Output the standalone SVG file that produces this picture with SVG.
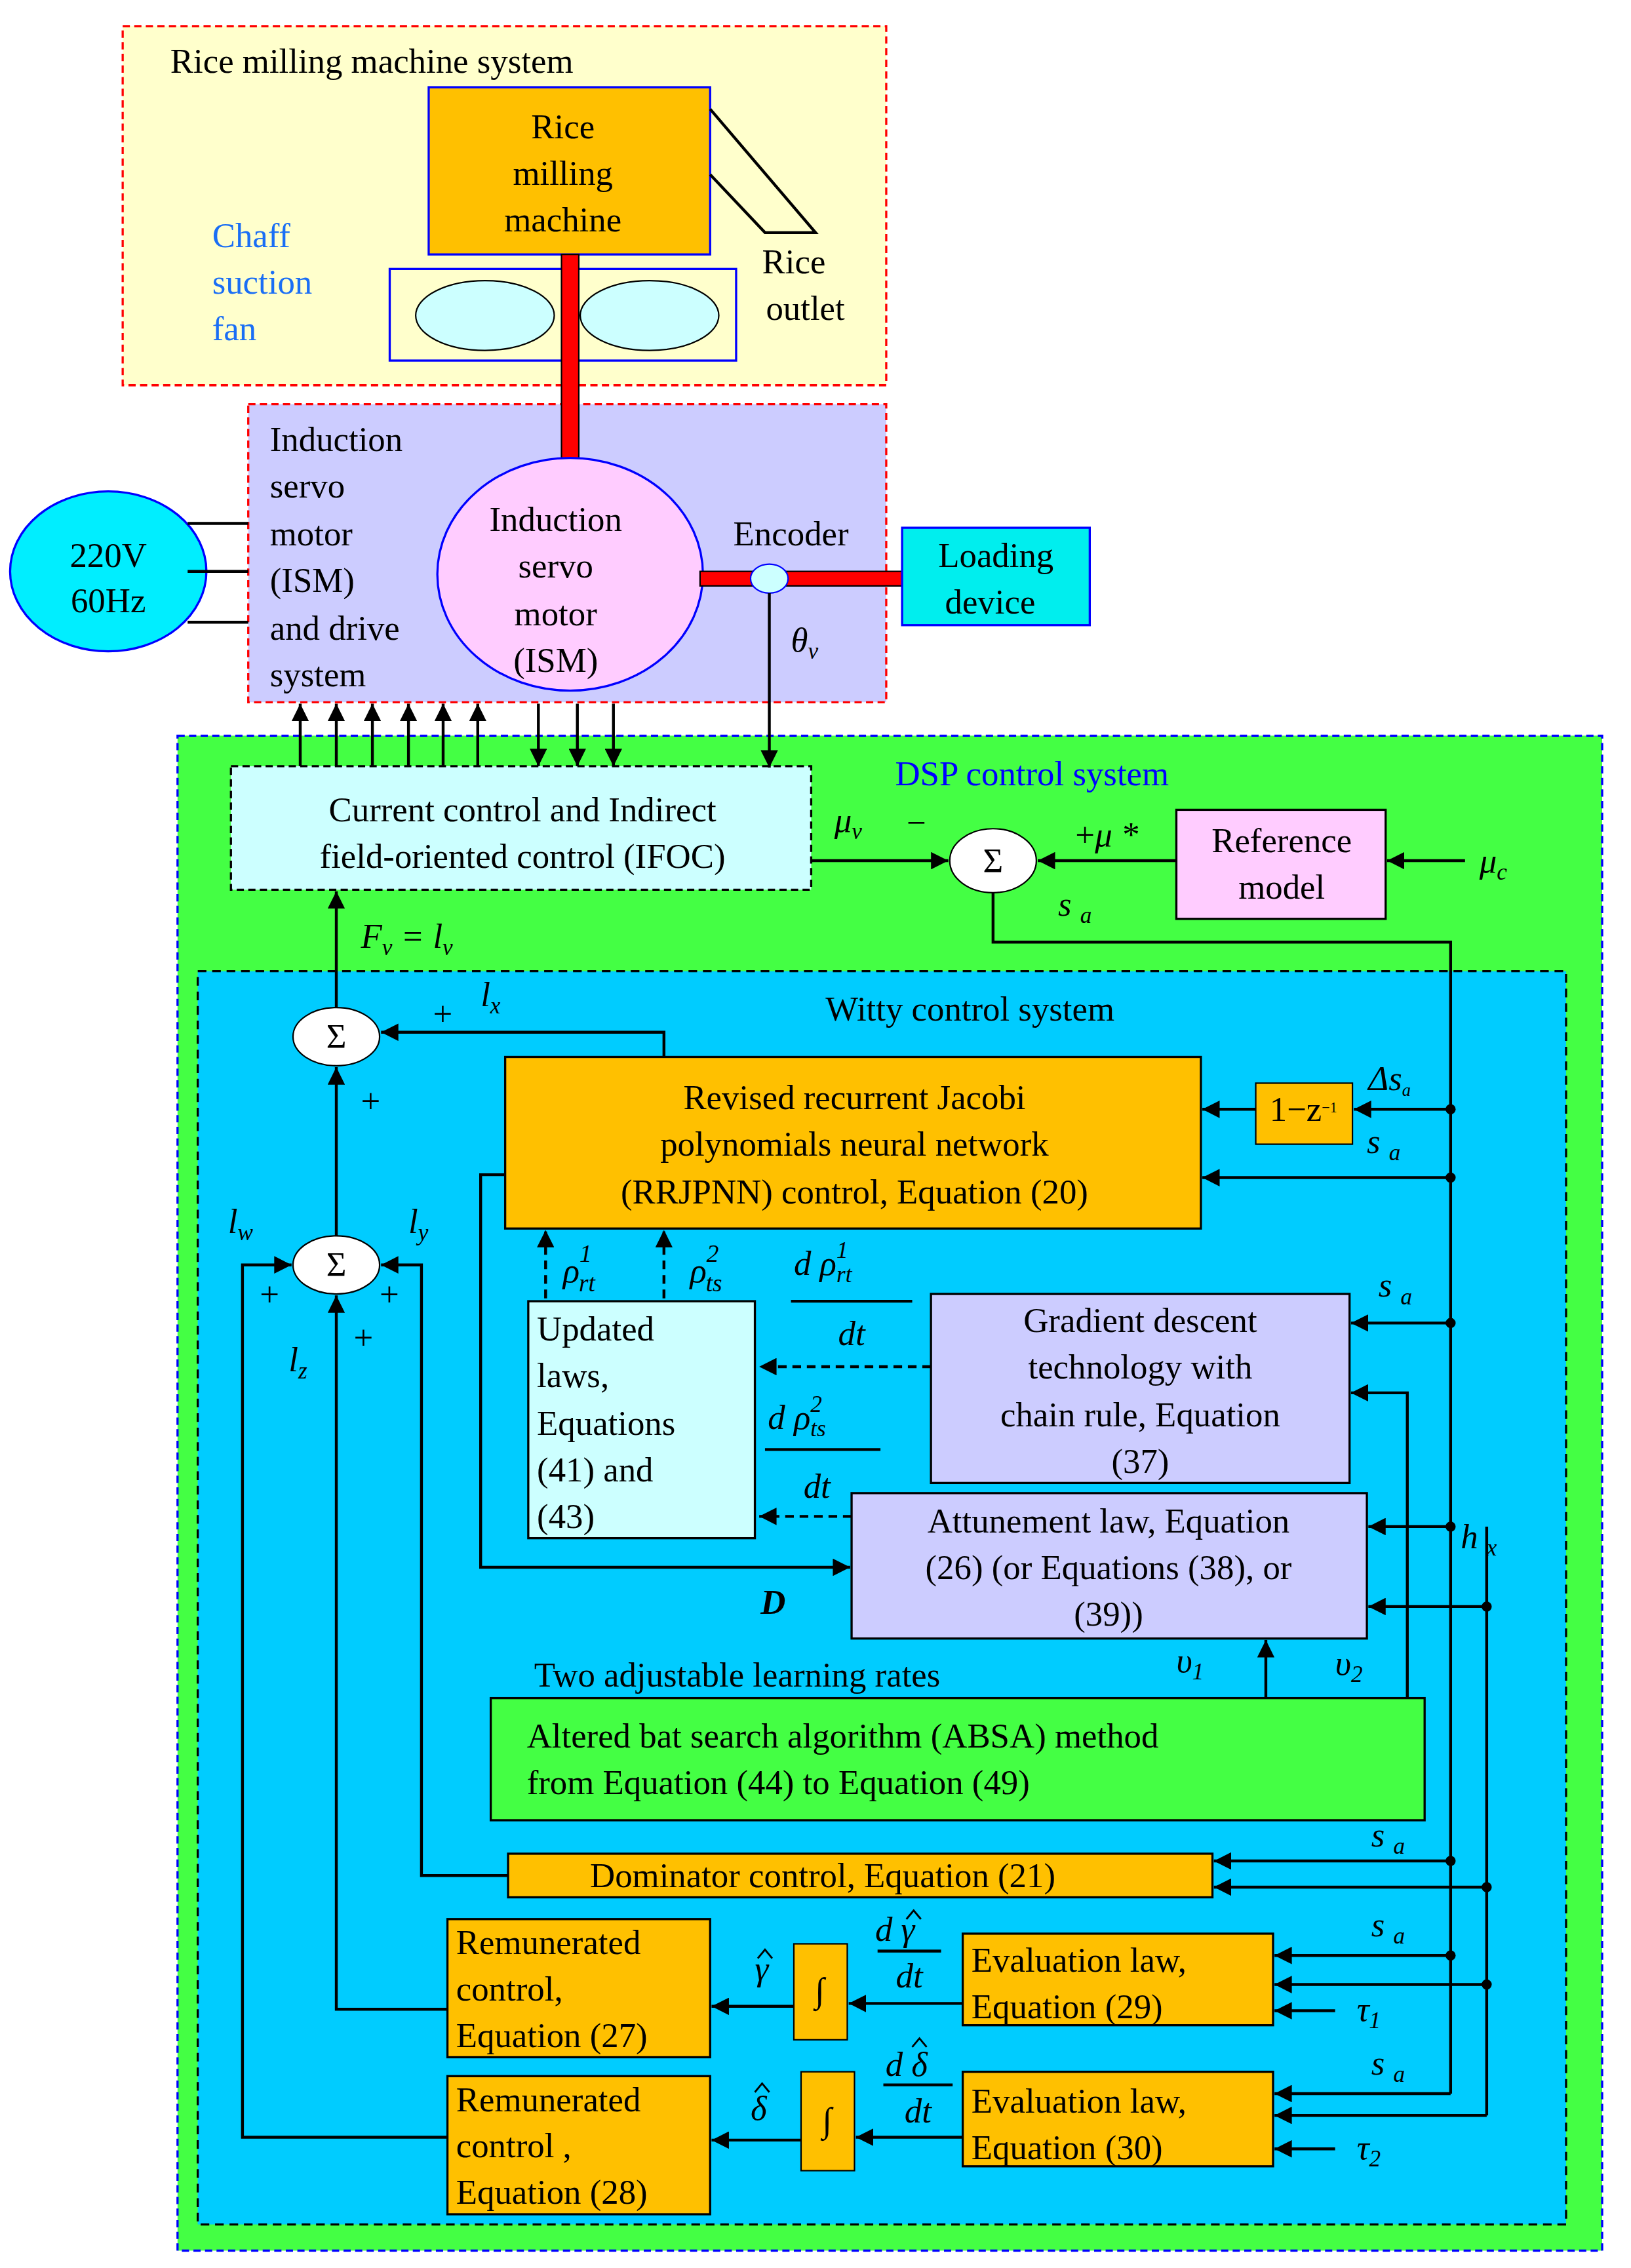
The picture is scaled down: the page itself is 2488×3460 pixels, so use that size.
<svg xmlns="http://www.w3.org/2000/svg" width="2488" height="3460" viewBox="0 0 2488 3460">
<style>
text{font-family:"Liberation Serif","Times New Roman",serif;font-size:24px;fill:#000}
.c{text-anchor:middle}
.i{font-style:italic}
.w{stroke:#000;stroke-width:2;fill:none}
.h{stroke:#000;stroke-width:1.3;fill:none}
.d{stroke:#000;stroke-width:2;fill:none;stroke-dasharray:6,4}
</style>
<defs>
<marker id="m" viewBox="0 0 10 10" refX="10" refY="5" markerWidth="6" markerHeight="6" orient="auto"><path d="M0,0L10,5L0,10z" fill="#000"/></marker>
</defs>
<rect width="2488" height="3460" fill="#fff"/>
<g transform="scale(2.2018,2.218)">
<g id="rice-system">
<rect x="85" y="18" width="529" height="247" fill="#ffffcc" stroke="#f00" stroke-width="1.5" stroke-dasharray="5,3"/>
<text x="118" y="50">Rice milling machine system</text>
<text x="147" y="170" style="fill:#1a6ef5">Chaff</text><text x="147" y="202" style="fill:#1a6ef5">suction</text><text x="147" y="234" style="fill:#1a6ef5">fan</text>
</g>
<g id="mill"><rect x="297" y="60" width="195" height="115" fill="#ffc000" stroke="#00f" stroke-width="1.5"/>
<text x="390" y="95" class="c">Rice</text><text x="390" y="127" class="c">milling</text><text x="390" y="159" class="c">machine</text></g>
<g id="outlet"><path d="M492,75L565,160L530,160L492,120" class="w"/><text x="550" y="188" class="c">Rice</text><text x="558" y="220" class="c">outlet</text></g>
<g id="fan"><rect x="270" y="185" width="240" height="63" fill="none" stroke="#00f" stroke-width="1.5"/>
<ellipse cx="336" cy="217" rx="48" ry="24" fill="#ccffff" stroke="#000"/><ellipse cx="450" cy="217" rx="48" ry="24" fill="#ccffff" stroke="#000"/></g>
<g id="drive"><rect x="172" y="278" width="442" height="205" fill="#ccccff" stroke="#f00" stroke-width="1.5" stroke-dasharray="5,3"/>
<text x="187" y="310">Induction</text><text x="187" y="342">servo</text><text x="187" y="375">motor</text><text x="187" y="407">(ISM)</text><text x="187" y="440">and drive</text><text x="187" y="472">system</text></g>
<rect x="389" y="175" width="12" height="150" fill="#f00" stroke="#000"/>
<g id="motor"><ellipse cx="395" cy="395" rx="92" ry="80" fill="#ffccff" stroke="#00f" stroke-width="1.5"/>
<text x="385" y="365" class="c">Induction</text><text x="385" y="397" class="c">servo</text><text x="385" y="430" class="c">motor</text><text x="385" y="462" class="c">(ISM)</text></g>
<rect x="485" y="393" width="140" height="10" fill="#f00" stroke="#000"/>
<g id="encoder"><ellipse cx="533" cy="398" rx="13" ry="10" fill="#ccffff" stroke="#00f"/><text x="548" y="375" class="c">Encoder</text>
<text x="548" y="448" class="i">θ<tspan font-size="16" dy="5">v</tspan></text></g>
<g id="loading"><rect x="625" y="363" width="130" height="67" fill="#00eeee" stroke="#00f" stroke-width="1.5"/><text x="690" y="390" class="c">Loading</text><text x="686" y="422" class="c">device</text></g>
<g id="power"><ellipse cx="75" cy="393" rx="68" ry="55" fill="#00eeff" stroke="#00f" stroke-width="1.5"/><text x="75" y="390" class="c">220V</text><text x="75" y="421" class="c">60Hz</text></g>
<g id="dsp"><rect x="123" y="506" width="987" height="1042" fill="#44ff44" stroke="#00f" stroke-width="1.5" stroke-dasharray="5,3"/>
<text x="715" y="540" class="c" style="fill:#00f">DSP control system</text></g>
<g id="witty"><rect x="137" y="668" width="948" height="862" fill="#00ccff" stroke="#000" stroke-width="1.5" stroke-dasharray="6,4"/>
<text x="672" y="702" class="c">Witty control  system</text></g>
<g id="ifoc"><rect x="160" y="527" width="402" height="85" fill="#ccffff" stroke="#000" stroke-width="1.5" stroke-dasharray="5,3"/>
<text x="362" y="565" class="c">Current control and Indirect</text><text x="362" y="597" class="c">field-oriented control (IFOC)</text></g>
<g id="sum-main"><ellipse cx="688" cy="592" rx="30" ry="22" fill="#fff" stroke="#000"/><text x="688" y="600" class="c">Σ</text></g>
<g id="refmodel"><rect x="815" y="557" width="145" height="75" fill="#ffccff" stroke="#000" stroke-width="1.5"/><text x="888" y="586" class="c">Reference</text><text x="888" y="618" class="c">model</text></g>
<g id="sum1"><ellipse cx="233" cy="713" rx="30" ry="20" fill="#fff" stroke="#000"/><text x="233" y="721" class="c">Σ</text></g>
<g id="sum2"><ellipse cx="233" cy="870" rx="30" ry="20" fill="#fff" stroke="#000"/><text x="233" y="878" class="c">Σ</text></g>
<g id="rrjpnn"><rect x="350" y="727" width="482" height="118" fill="#ffc000" stroke="#000" stroke-width="1.5"/>
<text x="592" y="763" class="c">Revised recurrent  Jacobi</text><text x="592" y="795" class="c">polynomials neural network</text><text x="592" y="828" class="c">(RRJPNN)  control, Equation (20)</text></g>
<g id="delay"><rect x="870" y="745" width="67" height="42" fill="#ffc000" stroke="#000"/><text x="903" y="771" class="c" font-size="13">1−z<tspan dy="-6" font-size="10">−1</tspan></text></g>
<g id="updated"><rect x="366" y="895" width="157" height="163" fill="#ccffff" stroke="#000" stroke-width="1.5"/>
<text x="372" y="922">Updated</text><text x="372" y="954"> laws,</text><text x="372" y="987">Equations</text><text x="372" y="1019">(41) and</text><text x="372" y="1051">(43)</text></g>
<g id="gradient"><rect x="645" y="890" width="290" height="130" fill="#ccccff" stroke="#000" stroke-width="1.5"/>
<text x="790" y="916" class="c">Gradient descent</text><text x="790" y="948" class="c">technology with</text><text x="790" y="981" class="c">chain  rule, Equation</text><text x="790" y="1013" class="c">(37)</text></g>
<g id="attune"><rect x="590" y="1027" width="357" height="100" fill="#ccccff" stroke="#000" stroke-width="1.5"/>
<text x="768" y="1054" class="c">Attunement law, Equation</text><text x="768" y="1086" class="c">(26) (or Equations (38), or</text><text x="768" y="1118" class="c">(39))</text></g>
<g id="absa"><rect x="340" y="1168" width="647" height="84" fill="#44ff44" stroke="#000" stroke-width="1.5"/>
<text x="365" y="1202">Altered bat search algorithm (ABSA)  method</text><text x="365" y="1234">from Equation (44) to Equation (49)</text></g>
<g id="dominator"><rect x="352" y="1275" width="488" height="30" fill="#ffc000" stroke="#000" stroke-width="1.5"/><text x="570" y="1298" class="c">Dominator control, Equation (21)</text></g>
<g id="rem27"><rect x="310" y="1320" width="182" height="95" fill="#ffc000" stroke="#000" stroke-width="1.5"/>
<text x="316" y="1344">Remunerated</text><text x="316" y="1376">control,</text><text x="316" y="1408">Equation (27)</text></g>
<g id="int1"><rect x="550" y="1337" width="37" height="66" fill="#ffc000" stroke="#000"/><text x="568" y="1377" class="c">∫</text></g>
<g id="eval29"><rect x="667" y="1330" width="215" height="63" fill="#ffc000" stroke="#000" stroke-width="1.5"/><text x="673" y="1356">Evaluation law,</text><text x="673" y="1388">Equation (29)</text></g>
<g id="rem28"><rect x="310" y="1428" width="182" height="95" fill="#ffc000" stroke="#000" stroke-width="1.5"/>
<text x="316" y="1452">Remunerated</text><text x="316" y="1484">control ,</text><text x="316" y="1516">Equation (28)</text></g>
<g id="int2"><rect x="555" y="1425" width="37" height="68" fill="#ffc000" stroke="#000"/><text x="573" y="1466" class="c">∫</text></g>
<g id="eval30"><rect x="667" y="1425" width="215" height="65" fill="#ffc000" stroke="#000" stroke-width="1.5"/><text x="673" y="1453">Evaluation law,</text><text x="673" y="1485">Equation (30)</text></g>
<g id="connectors">
<path d="M130,360H172M130,393H172M130,428H172" class="w"/>
<path d="M533,408V528" class="w" marker-end="url(#m)"/>
<g marker-end="url(#m)" class="w"><path d="M208,527V484"/><path d="M233,527V484"/><path d="M258,527V484"/><path d="M283,527V484"/><path d="M307,527V484"/><path d="M331,527V484"/>
<path d="M373,484V527"/><path d="M400,484V527"/><path d="M425,484V527"/>
<path d="M562,592H657"/><path d="M815,592H719"/><path d="M1015,592H961"/>
<path d="M233,693V613"/><path d="M460,727V710H264"/><path d="M233,850V734"/>
<path d="M870,763H833"/><path d="M1005,763H938"/><path d="M1005,810H833"/>
<path d="M310,1470H168V870H202"/><path d="M310,1382H233V891"/><path d="M352,1290H292V870H264"/>
<path d="M350,808H333V1078H589"/>
<path d="M1005,910H936"/><path d="M975,1168V958H936"/><path d="M1005,1050H948"/><path d="M1030,1105H948"/>
<path d="M877,1168V1128"/>
<path d="M1005,1280H841"/><path d="M1030,1298H841"/>
<path d="M550,1380H493"/><path d="M667,1378H588"/><path d="M1005,1345H883"/><path d="M1030,1365H883"/><path d="M925,1383H883"/>
<path d="M555,1472H493"/><path d="M667,1470H593"/><path d="M1005,1440H883"/><path d="M1030,1455H883"/><path d="M925,1478H883"/>
</g>
<g class="d" marker-end="url(#m)"><path d="M378,893V846"/><path d="M460,893V846"/><path d="M645,940H526"/><path d="M590,1043H526"/></g>
<path d="M688,614V648H1005V1440M1030,1050V1455" class="w"/>
<g fill="#000"><circle cx="1005" cy="763" r="3.5"/><circle cx="1005" cy="810" r="3.5"/><circle cx="1005" cy="910" r="3.5"/><circle cx="1005" cy="1050" r="3.5"/><circle cx="1030" cy="1105" r="3.5"/><circle cx="1005" cy="1280" r="3.5"/><circle cx="1030" cy="1298" r="3.5"/><circle cx="1005" cy="1345" r="3.5"/><circle cx="1030" cy="1365" r="3.5"/></g>
</g>
<g id="labels">
<text x="578" y="572" class="i">μ<tspan font-size="16" dy="5">v</tspan></text><text x="628" y="574">−</text>
<text x="745" y="582">+<tspan class="i">μ *</tspan></text>
<text x="1025" y="600" class="i">μ<tspan font-size="16" dy="5">c</tspan></text>
<text x="733" y="630" class="i">s <tspan font-size="16" dy="5">a</tspan></text>
<text x="250" y="652" class="i">F<tspan font-size="16" dy="5">v</tspan><tspan dy="-5"> = l</tspan><tspan font-size="16" dy="5">v</tspan></text>
<text x="300" y="705">+</text><text x="333" y="692" class="i">l<tspan font-size="16" dy="5">x</tspan></text>
<text x="250" y="765">+</text>
<text x="158" y="848" class="i">l<tspan font-size="16" dy="5">w</tspan></text><text x="283" y="848" class="i">l<tspan font-size="16" dy="5">y</tspan></text>
<text x="180" y="898">+</text><text x="263" y="898">+</text><text x="245" y="928">+</text>
<text x="200" y="943" class="i">l<tspan font-size="16" dy="5">z</tspan></text>
<text x="948" y="750" class="i" font-size="17">Δs<tspan font-size="12" dy="4">a</tspan></text>
<text x="947" y="793" class="i">s <tspan font-size="16" dy="5">a</tspan></text>
<text x="390" y="882" class="i" font-size="28">ρ<tspan font-size="17" dy="-14">1</tspan><tspan font-size="17" dx="-9" dy="20">rt</tspan></text>
<text x="478" y="882" class="i" font-size="28">ρ<tspan font-size="17" dy="-14">2</tspan><tspan font-size="17" dx="-9" dy="20">ts</tspan></text>
<text x="550" y="877" class="i" font-size="26">d ρ<tspan font-size="16" dy="-12">1</tspan><tspan font-size="16" dx="-8" dy="17">rt</tspan></text>
<path d="M548,895H632" class="w"/><text x="590" y="925" class="i c">dt</text>
<text x="532" y="983" class="i" font-size="26">d ρ<tspan font-size="16" dy="-12">2</tspan><tspan font-size="16" dx="-8" dy="17">ts</tspan></text>
<path d="M530,997H610" class="w"/><text x="566" y="1030" class="i c">dt</text>
<text x="955" y="892" class="i">s <tspan font-size="16" dy="5">a</tspan></text>
<text x="1012" y="1065" class="i">h<tspan font-size="16" dx="6" dy="5">x</tspan></text>
<text x="527" y="1110" class="i" font-weight="bold">D</text>
<text x="370" y="1160">Two adjustable learning rates</text>
<text x="815" y="1150" class="i">υ<tspan font-size="16" dy="5">1</tspan></text><text x="925" y="1152" class="i">υ<tspan font-size="16" dy="5">2</tspan></text>
<text x="950" y="1270" class="i">s <tspan font-size="16" dy="5">a</tspan></text>
<text x="950" y="1332" class="i">s <tspan font-size="16" dy="5">a</tspan></text>
<text x="950" y="1427" class="i">s <tspan font-size="16" dy="5">a</tspan></text>
<text x="940" y="1390" class="i">τ<tspan font-size="16" dy="5">1</tspan></text>
<text x="940" y="1485" class="i">τ<tspan font-size="16" dy="5">2</tspan></text>
<text x="523" y="1362" class="i">γ</text><path d="M525,1347L530,1341L535,1347" class="h"/>
<text x="520" y="1458" class="i">δ</text><path d="M523,1439L528,1433L533,1439" class="h"/>
<text x="620" y="1335" class="i c">d γ</text><path d="M628,1320L633,1314L638,1320" class="h"/><path d="M608,1342H652" class="w"/><text x="630" y="1367" class="i c">dt</text>
<text x="628" y="1428" class="i c">d δ</text><path d="M632,1408L637,1402L642,1408" class="h"/><path d="M612,1434H660" class="w"/><text x="636" y="1460" class="i c">dt</text>
</g>
</g>
</svg>
